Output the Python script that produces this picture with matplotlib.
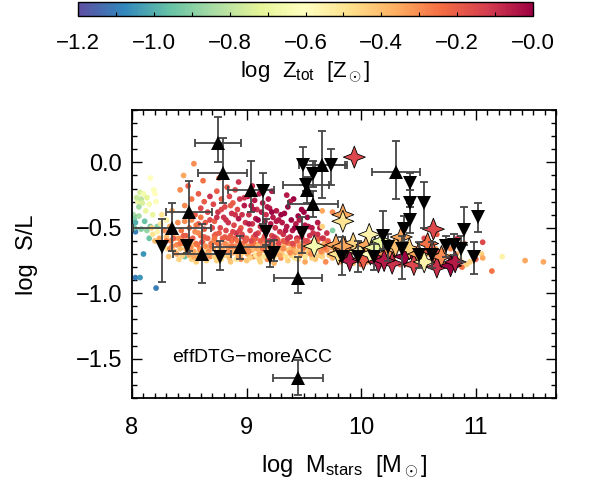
import numpy as np
import matplotlib
matplotlib.use('Agg')
import matplotlib.pyplot as plt
from matplotlib.path import Path
from matplotlib.colors import Normalize
from matplotlib.ticker import MultipleLocator

plt.rcParams['font.family'] = ['Liberation Sans', 'DejaVu Sans']
plt.rcParams['mathtext.fontset'] = 'custom'
plt.rcParams['mathtext.rm'] = 'Liberation Sans'
plt.rcParams['mathtext.it'] = 'Liberation Sans:italic'

# simulated galaxies: (log Mstars, log S/L, log Ztot)
dots_left = [
    (8.01, -0.40, -0.85), (8.02, -0.43, -0.90), (8.03, -0.53, -1.10), (8.03, -0.88, -1.10),
    (8.07, -0.88, -1.05), (8.05, -0.30, -0.70), (8.06, -0.34, -0.85), (8.06, -0.41, -0.85),
    (8.07, -0.23, -0.75), (8.08, -0.28, -0.80), (8.09, -0.31, -0.75), (8.10, -0.70, -1.05),
    (8.11, -0.45, -0.95), (8.10, -0.24, -0.65), (8.12, -0.37, -0.70), (8.15, -0.32, -0.65),
    (8.16, -0.12, -0.60), (8.16, -0.49, -0.95), (8.15, -0.58, -0.95), (8.20, -0.24, -0.60),
    (8.21, -0.30, -0.62), (8.22, -0.49, -0.90), (8.21, -0.96, -1.10), (8.46, -0.72, -0.95),
    (8.04, -0.27, -0.78), (8.19, -0.21, -0.62), (8.03, -0.46, -1.00), (8.13, -0.27, -0.72),
    (8.02, -0.50, -0.95), (8.08, -0.51, -0.90), (8.13, -0.52, -0.88), (8.18, -0.40, -0.70),
]

dots_band = [
    (8.17, -0.50, -0.45), (8.18, -0.55, -0.50), (8.20, -0.60, -0.40), (8.22, -0.53, -0.55),
    (8.24, -0.58, -0.35), (8.25, -0.47, -0.50), (8.27, -0.62, -0.45), (8.28, -0.52, -0.30),
    (8.30, -0.57, -0.40), (8.31, -0.66, -0.50), (8.33, -0.49, -0.35), (8.34, -0.60, -0.30),
    (8.36, -0.55, -0.45), (8.37, -0.68, -0.40), (8.39, -0.63, -0.30), (8.40, -0.46, -0.30),
    (8.26, -0.40, -0.50), (8.30, -0.44, -0.55), (8.35, -0.37, -0.35),
    (8.41, -0.58, -0.30), (8.42, -0.66, -0.40), (8.43, -0.52, -0.25), (8.44, -0.71, -0.45),
    (8.45, -0.62, -0.35), (8.46, -0.45, -0.30), (8.47, -0.56, -0.20), (8.48, -0.69, -0.35),
    (8.49, -0.60, -0.40), (8.50, -0.50, -0.25), (8.51, -0.65, -0.30), (8.52, -0.74, -0.45),
    (8.53, -0.58, -0.20), (8.54, -0.68, -0.35), (8.55, -0.53, -0.30), (8.56, -0.62, -0.25),
    (8.57, -0.72, -0.40), (8.58, -0.47, -0.20), (8.59, -0.66, -0.30), (8.60, -0.56, -0.25),
    (8.61, -0.61, -0.15), (8.62, -0.70, -0.35), (8.63, -0.51, -0.20), (8.64, -0.64, -0.30),
    (8.65, -0.75, -0.45), (8.66, -0.58, -0.20), (8.67, -0.68, -0.30), (8.69, -0.62, -0.25),
    (8.71, -0.66, -0.35), (8.72, -0.72, -0.45), (8.73, -0.61, -0.30), (8.75, -0.69, -0.40),
    (8.76, -0.63, -0.25), (8.78, -0.74, -0.50), (8.79, -0.67, -0.35), (8.81, -0.62, -0.30),
    (8.82, -0.71, -0.45), (8.84, -0.65, -0.30), (8.85, -0.73, -0.40), (8.87, -0.60, -0.25),
    (8.88, -0.69, -0.35), (8.90, -0.64, -0.30), (8.91, -0.74, -0.50), (8.93, -0.67, -0.35),
    (8.94, -0.71, -0.40), (8.96, -0.62, -0.25), (8.97, -0.69, -0.45), (8.99, -0.66, -0.30),
    (9.01, -0.70, -0.35), (9.02, -0.64, -0.30), (9.03, -0.73, -0.45), (9.05, -0.67, -0.40),
    (9.06, -0.61, -0.25), (9.08, -0.71, -0.50), (9.09, -0.66, -0.35), (9.11, -0.74, -0.45),
    (9.12, -0.68, -0.40), (9.14, -0.63, -0.30), (9.15, -0.72, -0.50), (9.17, -0.66, -0.35),
    (9.18, -0.70, -0.45), (9.20, -0.64, -0.30), (9.21, -0.74, -0.55), (9.23, -0.68, -0.40),
    (9.24, -0.72, -0.50), (9.26, -0.65, -0.35), (9.27, -0.70, -0.45), (9.29, -0.66, -0.40),
    (9.31, -0.70, -0.45), (9.32, -0.65, -0.35), (9.34, -0.72, -0.50), (9.36, -0.67, -0.40),
    (9.37, -0.62, -0.30), (9.39, -0.71, -0.45), (9.41, -0.66, -0.35), (9.42, -0.73, -0.50),
    (9.44, -0.68, -0.40), (9.46, -0.64, -0.30), (9.47, -0.71, -0.45), (9.49, -0.67, -0.35),
    (9.51, -0.72, -0.50), (9.52, -0.63, -0.30), (9.54, -0.69, -0.40), (9.56, -0.66, -0.35),
    (9.57, -0.73, -0.45), (9.59, -0.68, -0.40), (9.61, -0.66, -0.35), (9.62, -0.60, -0.30),
    (9.63, -0.71, -0.45), (9.65, -0.64, -0.30), (9.66, -0.69, -0.40), (9.68, -0.62, -0.35),
    (9.70, -0.67, -0.30), (9.72, -0.71, -0.45), (9.74, -0.65, -0.35), (9.76, -0.69, -0.40),
    (9.82, -0.68, -0.30), (9.88, -0.72, -0.40), (9.95, -0.66, -0.35), (10.00, -0.78, -0.20),
    (10.06, -0.68, -0.40), (10.14, -0.74, -0.30), (10.20, -0.66, -0.45), (10.28, -0.72, -0.35),
    (10.34, -0.78, -0.20), (10.40, -0.70, -0.40), (10.48, -0.74, -0.30), (10.56, -0.68, -0.35),
    (10.64, -0.76, -0.25), (10.72, -0.72, -0.40), (10.78, -0.66, -0.30), (10.86, -0.74, -0.45),
    (10.92, -0.78, -0.45), (10.90, -0.62, -0.20), (10.84, -0.58, -0.10), (10.66, -0.55, -0.20),
    (10.55, -0.58, -0.15), (9.75, -0.52, -0.90),
]

# lower edge of the band, light orange
dots_band_low = [
    (8.32, -0.72, -0.42), (8.35, -0.64, -0.30), (8.38, -0.58, -0.38), (8.41, -0.74, -0.45),
    (8.44, -0.60, -0.30), (8.47, -0.66, -0.42), (8.50, -0.71, -0.35), (8.53, -0.63, -0.38),
    (8.56, -0.76, -0.45), (8.59, -0.69, -0.42), (8.62, -0.60, -0.35), (8.65, -0.66, -0.45),
    (8.68, -0.72, -0.30), (8.71, -0.60, -0.38), (8.74, -0.75, -0.45), (8.77, -0.66, -0.38),
    (8.80, -0.70, -0.45), (8.83, -0.63, -0.35), (8.86, -0.76, -0.42), (8.89, -0.66, -0.38),
    (8.92, -0.70, -0.45), (8.95, -0.74, -0.30), (8.98, -0.62, -0.35), (9.00, -0.75, -0.42),
    (9.03, -0.66, -0.45), (9.06, -0.72, -0.30), (9.09, -0.63, -0.38), (9.12, -0.76, -0.45),
    (9.15, -0.67, -0.38), (9.18, -0.74, -0.30), (9.21, -0.65, -0.42), (9.24, -0.77, -0.38),
    (9.27, -0.68, -0.45), (9.30, -0.73, -0.30), (9.33, -0.63, -0.38), (9.36, -0.75, -0.45),
    (9.39, -0.66, -0.38), (9.42, -0.69, -0.30), (9.45, -0.74, -0.45), (9.48, -0.62, -0.38),
    (9.51, -0.76, -0.35), (9.54, -0.66, -0.45), (9.57, -0.70, -0.30), (9.60, -0.74, -0.42),
    (9.63, -0.65, -0.38), (9.66, -0.72, -0.45), (9.69, -0.76, -0.30), (9.72, -0.63, -0.42),
    (9.75, -0.73, -0.38), (9.78, -0.67, -0.45), (9.81, -0.76, -0.30), (9.84, -0.70, -0.38),
    (9.87, -0.64, -0.42), (9.90, -0.70, -0.30), (9.93, -0.77, -0.38), (9.96, -0.62, -0.42),
    (9.99, -0.72, -0.30), (10.02, -0.66, -0.45), (10.05, -0.76, -0.35), (10.08, -0.64, -0.38),
    (10.11, -0.70, -0.20), (10.14, -0.66, -0.42), (10.17, -0.78, -0.30), (10.20, -0.71, -0.38),
    (10.23, -0.62, -0.30), (10.26, -0.68, -0.42), (10.29, -0.76, -0.25), (10.32, -0.66, -0.38),
    (10.35, -0.72, -0.30), (10.38, -0.64, -0.42), (10.41, -0.78, -0.30), (10.44, -0.70, -0.38),
    (10.47, -0.66, -0.20), (10.50, -0.76, -0.35), (10.53, -0.72, -0.30), (10.56, -0.78, -0.15),
    (10.59, -0.70, -0.38), (10.62, -0.74, -0.30), (10.65, -0.66, -0.35), (10.68, -0.76, -0.20),
    (10.71, -0.68, -0.30), (10.74, -0.78, -0.25), (10.77, -0.72, -0.38), (10.80, -0.76, -0.30),
    (10.83, -0.70, -0.35), (10.88, -0.80, -0.25),
]

# upper part of the band, red and orange
dots_band_mid = [
    (8.30, -0.60, -0.25), (8.33, -0.66, -0.30), (8.36, -0.58, -0.20), (8.39, -0.70, -0.35),
    (8.42, -0.62, -0.25), (8.45, -0.56, -0.20), (8.48, -0.66, -0.30), (8.51, -0.59, -0.20),
    (8.54, -0.72, -0.35), (8.57, -0.63, -0.25), (8.60, -0.68, -0.30), (8.63, -0.57, -0.20),
    (8.66, -0.70, -0.35), (8.69, -0.64, -0.25), (8.72, -0.56, -0.20), (8.75, -0.62, -0.25),
    (8.78, -0.70, -0.30), (8.81, -0.57, -0.20), (8.84, -0.68, -0.30), (8.87, -0.64, -0.25),
    (8.90, -0.58, -0.20), (8.93, -0.72, -0.35), (8.96, -0.66, -0.30), (8.99, -0.60, -0.20),
    (9.02, -0.68, -0.30), (9.05, -0.63, -0.25), (9.08, -0.58, -0.20), (9.11, -0.70, -0.35),
    (9.14, -0.66, -0.25), (9.17, -0.60, -0.20), (9.20, -0.69, -0.30), (9.23, -0.62, -0.25),
    (9.26, -0.58, -0.20), (9.29, -0.71, -0.35), (9.32, -0.66, -0.30), (9.35, -0.61, -0.20),
    (9.38, -0.69, -0.30), (9.41, -0.63, -0.25), (9.44, -0.58, -0.15), (9.47, -0.70, -0.35),
    (9.50, -0.65, -0.25), (9.53, -0.60, -0.20), (9.56, -0.70, -0.30), (9.59, -0.63, -0.25),
    (9.62, -0.58, -0.20), (9.65, -0.68, -0.30), (9.68, -0.65, -0.25), (9.71, -0.60, -0.20),
    (9.74, -0.70, -0.30), (9.77, -0.64, -0.25),
]

dots_cloud = [
    (8.42, -0.21, -0.30), (8.49, -0.18, -0.20), (8.54, -0.01, -0.30), (8.52, -0.28, -0.25),
    (8.46, -0.33, -0.30), (8.58, -0.24, -0.20), (8.60, -0.35, -0.15), (8.55, -0.40, -0.20),
    (8.63, -0.30, -0.20), (8.66, -0.38, -0.15), (8.68, -0.26, -0.10), (8.62, -0.14, -0.25),
    (8.45, -0.10, -0.35), (8.68, -0.44, -0.15),
    (8.71, -0.32, -0.15), (8.72, -0.45, -0.20), (8.73, -0.55, -0.20), (8.74, -0.22, -0.20),
    (8.75, -0.38, -0.10), (8.77, -0.50, -0.15), (8.78, -0.28, -0.20), (8.79, -0.58, -0.20),
    (8.80, -0.42, -0.10), (8.81, -0.34, -0.15), (8.82, -0.52, -0.15), (8.83, -0.19, -0.20),
    (8.84, -0.46, -0.10), (8.85, -0.26, -0.15), (8.86, -0.56, -0.20), (8.87, -0.39, -0.10),
    (8.88, -0.31, -0.20), (8.89, -0.48, -0.15), (8.90, -0.21, -0.15), (8.91, -0.54, -0.10),
    (8.92, -0.36, -0.15), (8.93, -0.43, -0.05), (8.94, -0.28, -0.10), (8.95, -0.50, -0.20),
    (8.96, -0.40, -0.10), (8.97, -0.57, -0.15), (8.98, -0.33, -0.05), (8.99, -0.46, -0.10),
    (8.76, -0.12, -0.25), (8.93, -0.15, -0.10),
    (9.01, -0.26, -0.05), (9.02, -0.40, -0.10), (9.03, -0.52, -0.15), (9.04, -0.33, -0.05),
    (9.05, -0.47, -0.10), (9.06, -0.57, -0.20), (9.07, -0.29, -0.05), (9.08, -0.43, -0.05),
    (9.09, -0.36, -0.10), (9.10, -0.54, -0.15), (9.11, -0.24, -0.05), (9.12, -0.49, -0.10),
    (9.13, -0.38, -0.05), (9.14, -0.31, -0.05), (9.15, -0.58, -0.20), (9.16, -0.45, -0.05),
    (9.17, -0.40, -0.10), (9.18, -0.52, -0.10), (9.19, -0.28, -0.05), (9.20, -0.35, -0.05),
    (9.21, -0.47, -0.05), (9.22, -0.56, -0.15), (9.23, -0.42, -0.05), (9.25, -0.50, -0.10),
    (9.26, -0.37, -0.05), (9.27, -0.59, -0.20), (9.28, -0.44, -0.05), (9.29, -0.53, -0.10),
    (9.05, -0.18, -0.10), (9.22, -0.22, -0.05),
    (9.31, -0.46, -0.05), (9.32, -0.55, -0.10), (9.33, -0.39, 0.00), (9.34, -0.60, -0.15),
    (9.35, -0.49, -0.05), (9.36, -0.34, 0.00), (9.38, -0.57, -0.10), (9.39, -0.44, 0.00),
    (9.40, -0.52, -0.05), (9.41, -0.28, 0.00), (9.43, -0.47, -0.05), (9.44, -0.58, -0.10),
    (9.45, -0.41, 0.00), (9.47, -0.53, -0.05), (9.48, -0.36, 0.00), (9.50, -0.60, -0.15),
    (9.51, -0.48, -0.05), (9.53, -0.42, 0.00), (9.55, -0.56, -0.10), (9.57, -0.50, -0.05),
    (9.58, -0.61, -0.20), (9.35, -0.25, -0.05),
    (9.62, -0.55, -0.10), (9.64, -0.50, -0.05), (9.67, -0.58, -0.15), (9.70, -0.54, -0.10),
    (9.75, -0.38, -0.30), (9.66, -0.37, -0.35), (9.66, -0.49, -0.45),
    (8.70, -0.50, -0.15), (8.74, -0.42, -0.10), (8.78, -0.36, -0.15), (8.82, -0.44, -0.10),
    (8.86, -0.33, -0.20), (8.90, -0.40, -0.10), (8.94, -0.52, -0.15), (8.98, -0.27, -0.10),
    (9.02, -0.47, -0.05), (9.06, -0.36, -0.05), (9.10, -0.44, 0.00), (9.14, -0.51, -0.10),
    (9.18, -0.34, -0.05), (9.22, -0.38, 0.00), (9.26, -0.45, -0.05), (9.30, -0.40, 0.00),
    (9.34, -0.52, -0.05), (9.38, -0.30, -0.05), (9.42, -0.50, 0.00), (9.46, -0.44, -0.05),
    (9.50, -0.38, 0.00), (9.54, -0.49, -0.05), (9.58, -0.54, -0.10), (9.62, -0.46, -0.05),
    (9.66, -0.58, -0.10), (8.72, -0.58, -0.25), (8.76, -0.54, -0.20), (8.84, -0.58, -0.20),
    (8.88, -0.53, -0.15), (8.92, -0.60, -0.25), (8.96, -0.55, -0.15), (9.00, -0.58, -0.20),
    (9.04, -0.60, -0.15), (9.08, -0.55, -0.10), (9.12, -0.60, -0.20), (9.16, -0.56, -0.15),
    (9.20, -0.60, -0.10), (9.24, -0.57, -0.10), (9.28, -0.62, -0.15), (9.32, -0.60, -0.20),
    (9.36, -0.58, -0.10), (9.40, -0.62, -0.15), (9.44, -0.60, -0.20), (9.48, -0.57, -0.10),
    (9.52, -0.60, -0.15), (9.56, -0.62, -0.20), (8.64, -0.46, -0.20), (8.60, -0.42, -0.25),
    (8.56, -0.48, -0.25), (8.52, -0.44, -0.30), (8.58, -0.54, -0.30),
]

dots_tail = [
    (11.06, -0.61, -0.15), (11.05, -0.70, -0.45), (11.06, -0.73, -0.35), (11.23, -0.72, -0.55),
    (11.43, -0.75, -0.35), (11.59, -0.76, -0.35), (11.14, -0.83, -0.25), (10.95, -0.76, -0.45),
    (11.00, -0.74, -0.20),
]

# massive simulated galaxies drawn as stars
stars = [
    (9.94, 0.04, -0.15), (10.63, -0.51, -0.15), (9.84, -0.40, -0.35), (9.84, -0.45, -0.50),
    (9.59, -0.64, -0.65), (9.78, -0.63, -0.35), (9.80, -0.70, -0.50), (9.86, -0.66, -0.30),
    (9.90, -0.75, -0.05), (9.93, -0.62, -0.45), (9.98, -0.68, -0.55), (10.02, -0.74, -0.20),
    (10.05, -0.63, -0.35), (10.08, -0.70, -0.60), (10.12, -0.65, -0.70), (10.15, -0.76, -0.05),
    (10.18, -0.60, -0.70), (10.22, -0.70, -0.30), (10.27, -0.77, -0.10), (10.30, -0.64, -0.40),
    (10.35, -0.57, -0.35), (10.38, -0.72, 0.00), (10.42, -0.66, -0.45), (10.46, -0.78, -0.15),
    (10.50, -0.70, -0.35), (10.55, -0.76, -0.55), (10.58, -0.62, -0.25), (10.62, -0.68, -0.20),
    (10.66, -0.80, -0.10), (10.70, -0.72, -0.30), (10.78, -0.79, 0.00), (10.82, -0.76, -0.05),
    (10.07, -0.55, -0.55), (9.84, -0.64, -0.35), (10.20, -0.75, -0.05),
]

# observations: (log Mstars, log S/L, xerr, yerr_lo, yerr_hi)
obs_up = [
    (8.75, 0.15, 0.20, 0.15, 0.20), (8.79, -0.08, 0.21, 0.23, 0.27),
    (9.04, -0.21, 0.20, 0.17, 0.22), (8.50, -0.38, 0.20, 0.30, 0.24),
    (8.35, -0.50, 0.34, 0.18, 0.19), (8.61, -0.70, 0.25, 0.22, 0.23),
    (8.94, -0.65, 0.23, 0.09, 0.09), (9.45, -0.88, 0.21, 0.12, 0.16),
    (9.66, -0.02, 0.20, 0.25, 0.26), (9.53, -0.21, np.nan, 0.10, 0.10),
    (9.58, -0.32, 0.22, 0.10, 0.10), (10.30, -0.07, 0.21, 0.21, 0.23),
    (9.45, -1.65, 0.22, 0.13, 0.14),
]
obs_down = [
    (8.26, -0.65, np.nan, 0.26, 0.22), (8.48, -0.64, np.nan, 0.05, 0.05),
    (8.77, -0.72, np.nan, 0.10, 0.12), (9.14, -0.22, np.nan, 0.25, 0.14),
    (9.17, -0.53, np.nan, 0.10, 0.10), (9.20, -0.72, np.nan, 0.08, 0.12),
    (9.24, -0.69, np.nan, 0.06, 0.10), (9.48, -0.54, np.nan, 0.15, 0.12),
    (9.49, -0.02, np.nan, 0.15, 0.14), (9.58, -0.09, np.nan, 0.10, 0.10),
    (9.74, -0.02, 0.14, 0.15, 0.12), (9.52, -0.17, 0.20, 0.05, 0.05),
    (10.43, -0.16, np.nan, 0.15, 0.08), (10.43, -0.31, np.nan, 0.10, 0.10),
    (10.55, -0.31, np.nan, 0.19, 0.16), (10.43, -0.44, np.nan, 0.10, 0.10),
    (11.02, -0.42, np.nan, 0.11, 0.11), (10.90, -0.52, np.nan, 0.11, 0.18),
    (10.81, -0.63, np.nan, 0.08, 0.08), (10.74, -0.64, np.nan, 0.08, 0.08),
    (10.87, -0.66, np.nan, 0.10, 0.10), (10.98, -0.72, np.nan, 0.13, 0.11),
    (10.19, -0.56, np.nan, 0.10, 0.19), (10.23, -0.65, np.nan, 0.10, 0.10),
    (10.11, -0.72, np.nan, 0.10, 0.10), (9.97, -0.72, np.nan, 0.12, 0.12),
    (9.83, -0.72, np.nan, 0.14, 0.15), (10.37, -0.51, np.nan, 0.10, 0.10),
    (10.36, -0.66, np.nan, 0.23, 0.10), (10.50, -0.71, np.nan, 0.10, 0.10),
    (10.62, -0.71, np.nan, 0.10, 0.10),
]

cmap = plt.get_cmap('Spectral_r')
norm = Normalize(vmin=-1.2, vmax=0.0)

fig = plt.figure(figsize=(6.07, 4.92), dpi=100)
ax = fig.add_axes([0.2175, 0.191, 0.6985, 0.5854])
cax = fig.add_axes([0.1285, 0.9675, 0.7496, 0.0285])

# pale band first, then the redder points on top
dots = np.array(dots_left + dots_band_low + dots_band + dots_band_mid + dots_cloud + dots_tail)
ax.scatter(dots[:, 0], dots[:, 1], c=dots[:, 2], cmap=cmap, norm=norm,
           s=17, linewidths=0, zorder=2)

star_path = Path([(0, 1), (0.28, 0.28), (1, 0), (0.28, -0.28), (0, -1),
                  (-0.28, -0.28), (-1, 0), (-0.28, 0.28), (0, 1)],
                 [Path.MOVETO] + [Path.LINETO] * 7 + [Path.CLOSEPOLY])
st = np.array(stars)
ax.scatter(st[:, 0], st[:, 1], c=st[:, 2], cmap=cmap, norm=norm,
           marker=star_path, s=250, edgecolors='black', linewidths=0.6, zorder=3)

for obs, mk in ((obs_up, '^'), (obs_down, 'v')):
    o = np.array(obs)
    ax.errorbar(o[:, 0], o[:, 1], xerr=o[:, 2], yerr=[o[:, 3], o[:, 4]],
                fmt='none', ecolor='#454545', elinewidth=1.3, capsize=3,
                capthick=1.3, zorder=4)
    ax.plot(o[:, 0], o[:, 1], mk, color='black', markersize=9.5,
            markeredgewidth=0, zorder=5)

ax.text(8.35, -1.49, 'effDTG$-$moreACC', fontsize=14, ha='left', va='center')

ax.set_xlim(8, 11.7)
ax.set_ylim(-1.8, 0.4)
ax.xaxis.set_major_locator(MultipleLocator(1))
ax.xaxis.set_minor_locator(MultipleLocator(0.1))
ax.yaxis.set_major_locator(MultipleLocator(0.5))
ax.yaxis.set_minor_locator(MultipleLocator(0.1))
ax.xaxis.set_major_formatter(plt.FuncFormatter(lambda v, p: f'{v:.0f}'))
ax.yaxis.set_major_formatter(plt.FuncFormatter(lambda v, p: f'{v:.1f}'.replace('-', '\u2212')))
ax.tick_params(which='both', direction='in', top=True, right=True, width=1.0, labelsize=17)
ax.tick_params(which='major', length=7)
ax.tick_params(which='minor', length=3.5)
ax.tick_params(axis='x', pad=14)
ax.tick_params(axis='y', pad=7)
for sp in ax.spines.values():
    sp.set_linewidth(1.3)

ax.set_xlabel(r'log  M$_{\rm stars}$  [M$_\odot$]', fontsize=17, labelpad=10)
fig.text(0.045, 0.483, 'log  S/L', rotation=90, fontsize=17, ha='center', va='center')

sm = plt.cm.ScalarMappable(cmap=cmap, norm=norm)
cb = fig.colorbar(sm, cax=cax, orientation='horizontal')
cb_ticks = [-1.2, -1.0, -0.8, -0.6, -0.4, -0.2, 0.0]
cb.set_ticks(cb_ticks)
cb.set_ticklabels(['\u2212' + f'{abs(t):.1f}' for t in cb_ticks])
cax.xaxis.set_minor_locator(MultipleLocator(0.1))
cax.tick_params(which='both', direction='in', length=3, width=0.8, labelsize=16, pad=12)
cb.outline.set_linewidth(1.0)
cb.set_label(r'log  Z$_{\rm tot}$  [Z$_\odot$]', fontsize=16, labelpad=4)

fig.savefig('out.png', dpi=100)
